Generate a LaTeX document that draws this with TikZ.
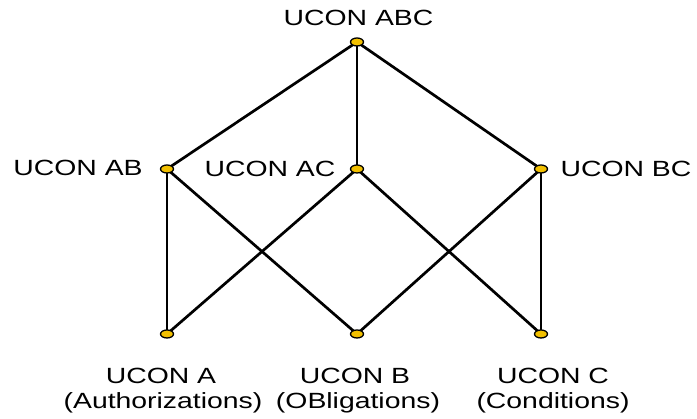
\documentclass[tikz,border=0pt]{standalone}
\usepackage{fontspec}
\setmainfont{Liberation Sans}
\usetikzlibrary{shapes.geometric,backgrounds}
\definecolor{dotyellow}{RGB}{242,192,0}
\begin{document}
\begin{tikzpicture}[x=1pt,y=-1pt,
  dot/.style={ellipse,draw=black,line width=1.3pt,fill=dotyellow,minimum width=13pt,minimum height=8pt,inner sep=0pt},
  edge/.style={line width=2.7pt,draw=black},
  lbl/.style={font=\fontsize{22}{24}\selectfont,xscale=1.29,transform shape,inner sep=0pt,anchor=base}]
\useasboundingbox (0,0) rectangle (697,419);
% dots
\node[dot] (abc) at (357,42) {};
\node[dot] (ab) at (167,169) {};
\node[dot] (ac) at (357,169) {};
\node[dot] (bc) at (541,169) {};
\node[dot] (a) at (167,334) {};
\node[dot] (b) at (357,334) {};
\node[dot] (c) at (541,334) {};
% edges
\begin{scope}[on background layer]
\draw[edge] (abc.center) -- (ab.center);
\draw[edge] (abc.center) -- (ac.center);
\draw[edge] (abc.center) -- (bc.center);
\draw[edge] (ab.center) -- (a.center);
\draw[edge] (ab.center) -- (b.center);
\draw[edge] (ac.center) -- (a.center);
\draw[edge] (ac.center) -- (c.center);
\draw[edge] (bc.center) -- (b.center);
\draw[edge] (bc.center) -- (c.center);
\end{scope}
% labels
\node[lbl] (labc) at (358.5,26) {UCON ABC};
\node[lbl] (lab) at (78,176) {UCON AB};
\node[lbl] (lac) at (270,177) {UCON AC};
\node[lbl] (lbc) at (626,177) {UCON BC};
\node[lbl] (la1) at (161,384) {UCON A};
\node[lbl] (la2) at (163,409) {(Authorizations)};
\node[lbl] (lb1) at (355,384) {UCON B};
\node[lbl] (lb2) at (358,409) {(OBligations)};
\node[lbl] (lc1) at (553,384) {UCON C};
\node[lbl] (lc2) at (553,409) {(Conditions)};
\end{tikzpicture}
\end{document}
